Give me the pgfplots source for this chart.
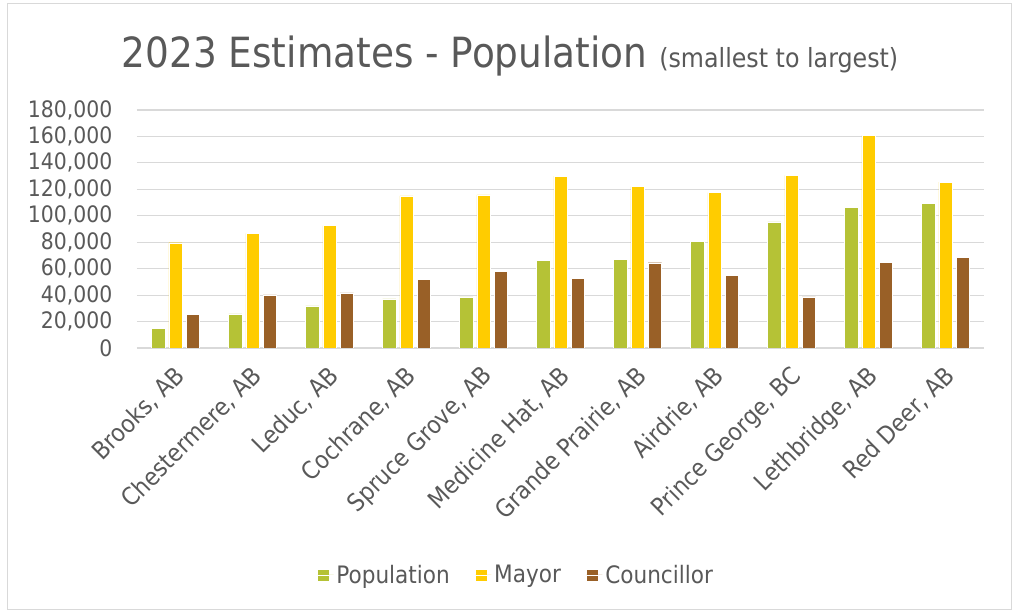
\documentclass[border=0pt]{standalone}
\usepackage{pgfplots}
\pgfplotsset{compat=1.18}
\usepackage{fontspec}
\setmainfont{DejaVu Sans Condensed}
\definecolor{cpop}{HTML}{B5C236}
\definecolor{cmay}{HTML}{FFCC00}
\definecolor{ccou}{HTML}{996027}
\definecolor{ctxt}{HTML}{595959}
\definecolor{cgrid}{HTML}{D9D9D9}
\begin{document}
\begin{tikzpicture}
\path[use as bounding box] (0pt,0pt) rectangle (760.5pt,459.75pt);
\draw[cgrid, line width=0.75pt] (5.25pt,2.25pt) rectangle (758.25pt,456.75pt);
\node[ctxt, anchor=base] at (382.5pt,409pt) {\fontsize{31.2}{36}\selectfont 2023 Estimates - Population \fontsize{19.8}{22}\selectfont(smallest to largest)};
\begin{axis}[
  at={(102.75pt,198.75pt)}, anchor=south west,
  scale only axis, width=635.25pt, height=178.5pt,
  ybar=3pt, bar width=10pt,
  ymin=0, ymax=180000,
  ytick={0,20000,...,180000},
  xmin=-0.5, xmax=10.5,
  xtick=data,
  xticklabels={{Brooks, AB},{Chestermere, AB},{Leduc, AB},{Cochrane, AB},{Spruce Grove, AB},{Medicine Hat, AB},{Grande Prairie, AB},{Airdrie, AB},{Prince George, BC},{Lethbridge, AB},{Red Deer, AB}},
  x tick label style={xshift=-2pt, yshift=-12pt, rotate=45, anchor=north east, font=\fontsize{18.3}{20}\selectfont, text=ctxt, inner sep=0pt},
  y tick label style={font=\fontsize{17}{20}\selectfont, text=ctxt, xshift=-15pt},
  /pgf/number format/assume math mode=true,
  /pgf/number format/.cd, fixed, 1000 sep={,}, /pgfplots/.cd,
  scaled y ticks=false,
  ymajorgrids, grid style={cgrid, line width=0.9pt},
  axis x line*=bottom, axis y line*=left,
  x axis line style={cgrid, line width=0.9pt},
  y axis line style={draw=none},
  major tick length=0pt,
  tick style={draw=none},
  legend style={at={(0.5,0)}, anchor=center, xshift=-33pt, yshift=-170.25pt, draw=none, legend columns=-1, font=\fontsize{18}{20}\selectfont, text=ctxt, /tikz/every even column/.append style={column sep=17pt}},
  legend image code/.code={\fill[#1] (0pt,-4.5pt) rectangle (9pt,4.5pt); \path (0pt,0pt) -- (12pt,0pt);},
  enlarge x limits=false,
]
\addplot[fill=cpop, draw=white, line width=0.3pt] coordinates {(0,15000) (1,25800) (2,31900) (3,37200) (4,38700) (5,66200) (6,67000) (7,80400) (8,95300) (9,106400) (10,109200)};
\addplot[fill=cmay, draw=white, line width=0.3pt] coordinates {(0,79600) (1,86700) (2,92500) (3,115000) (4,115800) (5,130000) (6,122100) (7,117600) (8,130500) (9,160800) (10,125400)};
\addplot[fill=ccou, draw=white, line width=0.3pt] coordinates {(0,25300) (1,40200) (2,41700) (3,52100) (4,57900) (5,52800) (6,64500) (7,54900) (8,38700) (9,65000) (10,68800)};
\legend{Population, Mayor, Councillor}
\end{axis}
\end{tikzpicture}
\end{document}
